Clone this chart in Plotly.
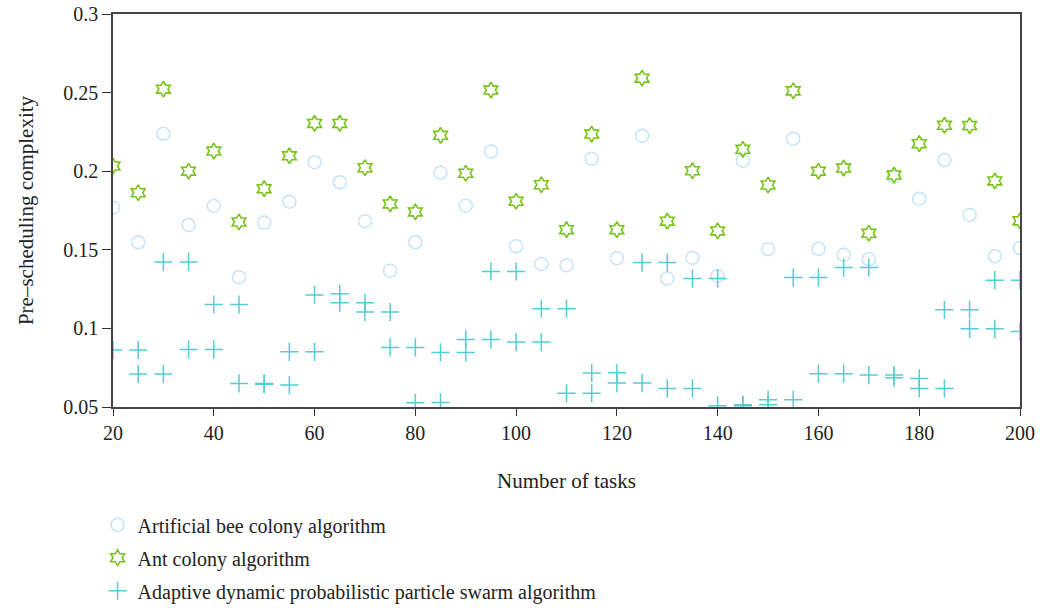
import plotly.graph_objects as go

tasks = [20, 25, 30, 35, 40, 45, 50, 55, 60, 65, 70, 75, 80, 85, 90, 95, 100, 105,
         110, 115, 120, 125, 130, 135, 140, 145, 150, 155, 160, 165, 170, 175, 180,
         185, 190, 195, 200]

bee = [0.1768, 0.1548, 0.2238, 0.1658, 0.1779, 0.1326, 0.1673, 0.1806, 0.2057, 0.193,
       0.1682, 0.1366, 0.1548, 0.199, 0.1781, 0.2126, 0.1523, 0.141, 0.1402, 0.2079,
       0.1447, 0.2226, 0.1317, 0.1449, 0.1334, 0.2067, 0.1504, 0.2207, 0.1506, 0.1468,
       0.144, 0.1965, 0.1825, 0.2071, 0.1722, 0.1459, 0.1512]

ant = [0.2033, 0.1863, 0.2522, 0.2, 0.2128, 0.1677, 0.1889, 0.2098, 0.2304, 0.2304,
       0.2022, 0.1792, 0.1741, 0.2228, 0.1987, 0.2516, 0.1809, 0.1914, 0.1628, 0.2236,
       0.1628, 0.2592, 0.1682, 0.2003, 0.162, 0.2139, 0.1912, 0.2511, 0.2, 0.202,
       0.1605, 0.1976, 0.2175, 0.2292, 0.229, 0.1938, 0.1684]

pso_a = [0.0862, 0.071, 0.1423, 0.0866, 0.1152, 0.065, 0.0645, 0.0851, 0.1213, 0.1163,
         0.1104, 0.0879, 0.0527, 0.0847, 0.093, 0.1362, 0.0913, 0.1125, 0.0587, 0.0716,
         0.0652, 0.1419, 0.0618, 0.1317, 0.0508, 0.0515, 0.0546, 0.1323, 0.0712, 0.1387,
         0.0703, 0.0686, 0.0618, 0.1118, 0.0997, 0.1307, 0.098]

pso_b = [None, 0.0862, 0.071, 0.1423, 0.0866, 0.1152, 0.065, 0.064, 0.0851, 0.122,
         0.1163, 0.1104, 0.0879, 0.0529, 0.0847, 0.093, 0.1362, 0.0913, 0.1125, 0.0587,
         0.0718, 0.0652, 0.1419, 0.0618, 0.1317, 0.0508, 0.0514, 0.0546, 0.1323, 0.0712,
         0.1387, 0.0703, 0.0682, 0.0618, 0.1118, 0.0997, 0.1307]

y_ticks = [0.05, 0.1, 0.15, 0.2, 0.25, 0.3]
y_tick_text = ["0.05", "0.1", "0.15", "0.2", "0.25", "0.3"]
x_ticks = [20, 40, 60, 80, 100, 120, 140, 160, 180, 200]

names = ["Artificial bee colony algorithm", "Ant colony algorithm",
         "Adaptive dynamic probabilistic particle swarm algorithm"]

FONT = "Liberation Serif"
FS = 20
BEE_C = "#c6e4f6"
ANT_C = "#78c31a"
PSO_C = "#55cdd3"

fig = go.Figure()
fig.add_trace(go.Scatter(
    x=tasks, y=bee, mode="markers", name=names[0], legendgroup="a",
    marker=dict(symbol="circle-open", size=13, color=BEE_C, line=dict(width=1.5))))
fig.add_trace(go.Scatter(
    x=tasks, y=ant, mode="markers", name=names[1], legendgroup="b",
    marker=dict(symbol="hexagram-open", size=12, color=ANT_C, line=dict(width=1.6))))
fig.add_trace(go.Scatter(
    x=tasks, y=pso_a, mode="markers", name=names[2], legendgroup="c",
    marker=dict(symbol="cross-thin-open", size=13, color=PSO_C, line=dict(width=1.5, color=PSO_C))))
fig.add_trace(go.Scatter(
    x=tasks, y=pso_b, mode="markers", name=names[2], legendgroup="c", showlegend=False,
    marker=dict(symbol="cross-thin-open", size=13, color=PSO_C, line=dict(width=1.5, color=PSO_C))))

fig.update_layout(
    width=1040, height=608,
    margin=dict(l=113, r=20, t=14, b=201, autoexpand=False),
    paper_bgcolor="white", plot_bgcolor="white",
    font=dict(family=FONT, size=FS, color="#222"),
    legend=dict(x=-0.017, y=-0.25, xanchor="left", yanchor="top",
                tracegroupgap=4, font=dict(size=FS, family=FONT, color="#222"),
                itemwidth=30),
)
fig.update_xaxes(
    range=[20, 200], tickvals=x_ticks, showgrid=False, zeroline=False,
    showline=True, linecolor="#444", linewidth=1.6, mirror=True,
    ticks="outside", ticklen=7, tickwidth=1.4, tickcolor="#333",
    tickfont=dict(size=FS, family=FONT),
    title=dict(text="Number of tasks", font=dict(size=FS + 1, family=FONT), standoff=31),
)
fig.update_yaxes(
    range=[0.05, 0.3], tickvals=y_ticks, ticktext=y_tick_text, showgrid=False,
    zeroline=False, showline=True, linecolor="#444", linewidth=1.6, mirror=True,
    ticks="outside", ticklen=9, tickwidth=1.4, tickcolor="#333",
    tickfont=dict(size=FS, family=FONT),
    title=dict(text="Pre\u2013scheduling complexity", font=dict(size=FS + 1, family=FONT), standoff=24),
)

fig.write_html("out.html")
